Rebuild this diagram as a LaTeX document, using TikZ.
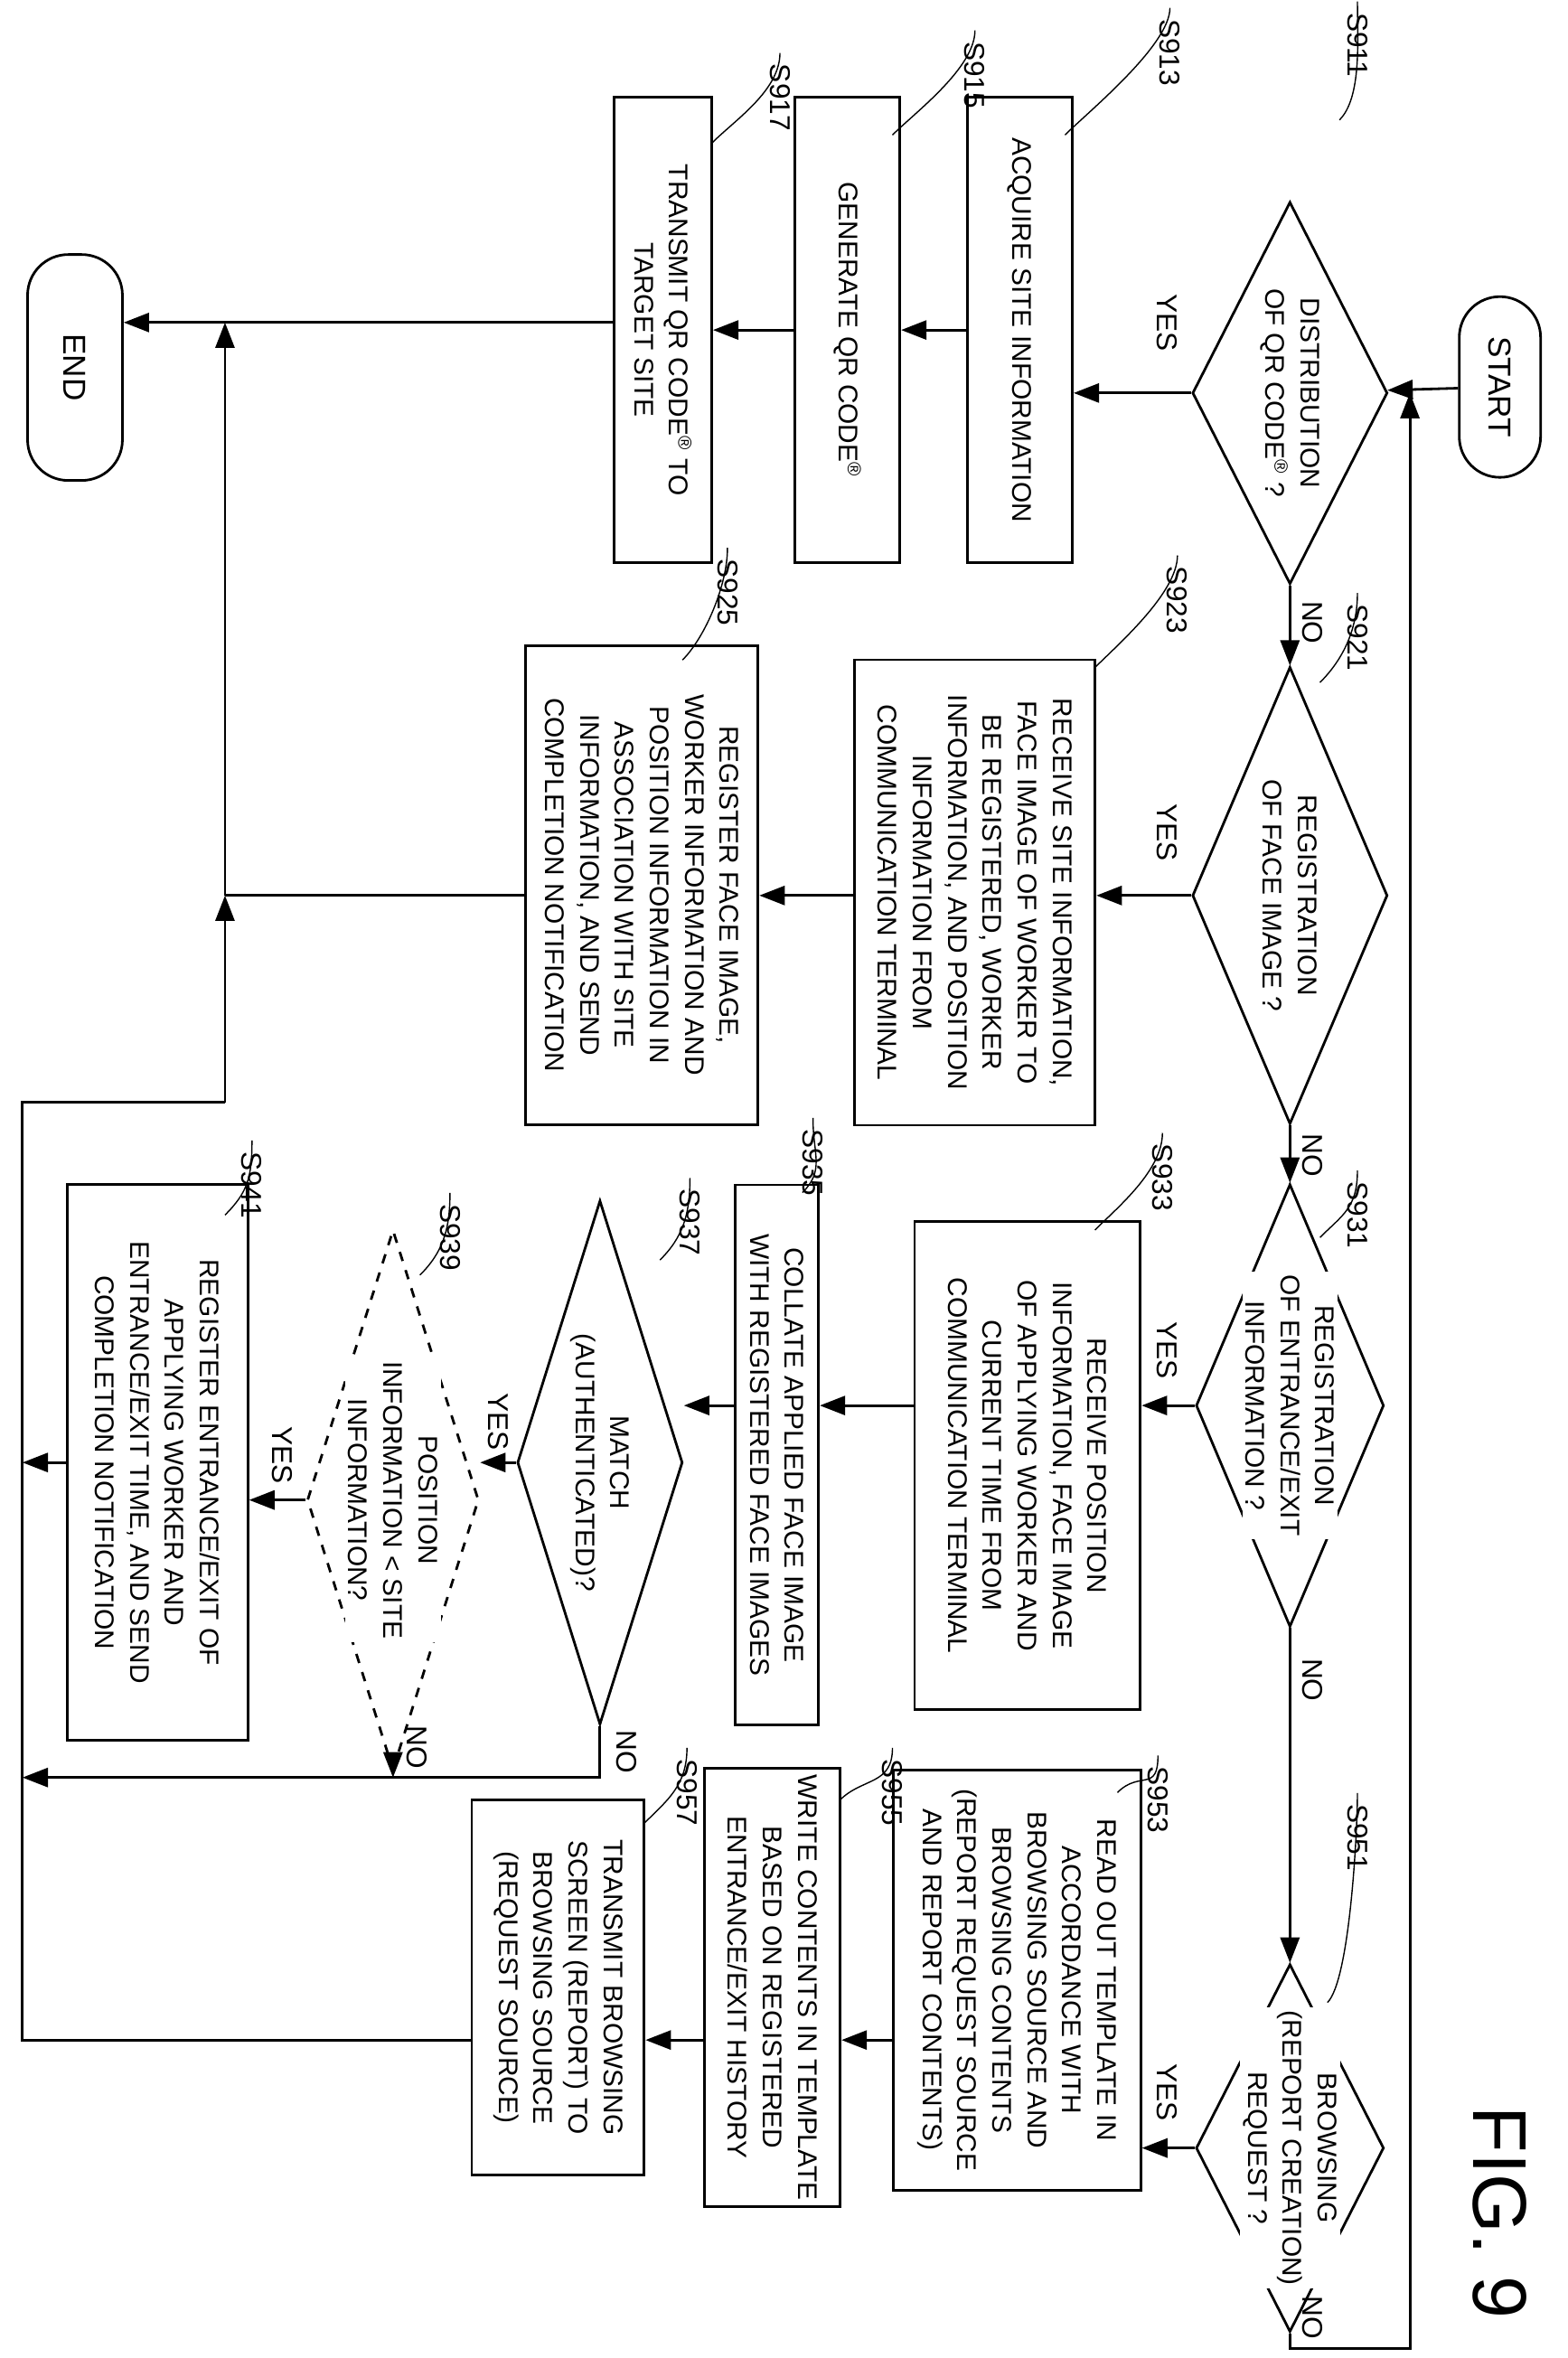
\documentclass[tikz,border=0pt]{standalone}
\usepackage{fontspec}
\setmainfont{Liberation Sans}
\usepackage{tikz}
\usetikzlibrary{shapes.geometric, arrows.meta}
\tikzstyle{box} = [rectangle, draw=black, thick, rotate=-90, align=center, inner sep=2pt, font=\fontsize{8.5}{11}\selectfont]
\tikzstyle{decision} = [diamond, draw=black, thick, rotate=-90, inner sep=0pt]
\tikzstyle{dtext} = [rotate=-90, align=center, inner sep=0pt, font=\fontsize{8.5}{11}\selectfont]
\tikzstyle{term} = [rectangle, rounded corners=0.45cm, draw=black, thick, rotate=-90, font=\fontsize{10}{12}\selectfont]
\tikzstyle{arrow} = [thick,-{Triangle[length=8pt,width=6pt]}]
\tikzstyle{line} = [thick]
\tikzstyle{steplabel} = [rotate=-90, font=\fontsize{9}{11}\selectfont]
\tikzstyle{lbl} = [rotate=-90, font=\fontsize{9}{11}\selectfont]
\begin{document}
\begin{tikzpicture}[x=0.0166cm, y=-0.0166cm]
    \useasboundingbox (0,0) rectangle (1045,1572);
    % start / end
    \node (start) [term, minimum width=2cm, minimum height=0.9cm] at (1000,258) {START};
    \node (end) [term, minimum width=2.5cm, minimum height=1.05cm] at (50,245) {END};
    % column 1
    \node (s911) [decision, minimum width=4.23cm, minimum height=2.16cm] at (860,262) {};
    \node [dtext] at (s911) {DISTRIBUTION\\OF QR CODE\textsuperscript{\textregistered} ?};
    \node (s913) [box, minimum width=5.15cm, minimum height=1.16cm] at (680,220) {ACQUIRE SITE INFORMATION};
    \node (s915) [box, minimum width=5.15cm, minimum height=1.16cm] at (565,220) {GENERATE QR CODE\textsuperscript{\textregistered}};
    \node (s917) [box, minimum width=5.15cm, minimum height=1.08cm] at (442,220) {TRANSMIT QR CODE\textsuperscript{\textregistered} TO\\TARGET SITE};
    % column 2
    \node (s921) [decision, minimum width=5.06cm, minimum height=2.16cm] at (860,597) {};
    \node [dtext] at (s921) {REGISTRATION\\OF FACE IMAGE ?};
    \node (s923) [box, minimum width=5.15cm, minimum height=2.66cm] at (650,595) {RECEIVE SITE INFORMATION,\\FACE IMAGE OF WORKER TO\\BE REGISTERED, WORKER\\INFORMATION, AND POSITION\\INFORMATION FROM\\COMMUNICATION TERMINAL};
    \node (s925) [box, minimum width=5.3cm, minimum height=2.57cm] at (428,590) {REGISTER FACE IMAGE,\\WORKER INFORMATION AND\\POSITION INFORMATION IN\\ASSOCIATION WITH SITE\\INFORMATION, AND SEND\\COMPLETION NOTIFICATION};
    % column 3
    \node (s931) [decision, minimum width=4.9cm, minimum height=2.08cm] at (860,937) {};
    \node [dtext, fill=white, inner sep=1pt] at (s931) {REGISTRATION\\OF ENTRANCE/EXIT\\INFORMATION ?};
    \node (s933) [box, minimum width=5.4cm, minimum height=2.5cm] at (685,977) {RECEIVE POSITION\\INFORMATION, FACE IMAGE\\OF APPLYING WORKER AND\\CURRENT TIME FROM\\COMMUNICATION TERMINAL};
    \node (s935) [box, minimum width=5.98cm, minimum height=0.92cm] at (518,970) {COLLATE APPLIED FACE IMAGE\\WITH REGISTERED FACE IMAGES};
    \node (s937) [decision, minimum width=5.8cm, minimum height=1.83cm] at (400,975) {};
    \node [dtext] at (s937) {MATCH\\(AUTHENTICATED)?};
    \node (s939) [decision, dashed, minimum width=5.98cm, minimum height=1.9cm] at (262,1000) {};
    \node [dtext, fill=white, inner sep=1pt] at (s939) {POSITION\\INFORMATION < SITE\\INFORMATION?};
    \node (s941) [box, minimum width=6.15cm, minimum height=2cm] at (105,975) {REGISTER ENTRANCE/EXIT OF\\APPLYING WORKER AND\\ENTRANCE/EXIT TIME, AND SEND\\COMPLETION NOTIFICATION};
    % column 4
    \node (s951) [decision, minimum width=4.07cm, minimum height=2.08cm] at (860,1432) {};
    \node [dtext, fill=white, inner sep=1pt] at (s951) {BROWSING\\(REPORT CREATION)\\REQUEST ?};
    \node (s953) [box, minimum width=4.65cm, minimum height=2.74cm] at (678,1320) {READ OUT TEMPLATE IN\\ACCORDANCE WITH\\BROWSING SOURCE AND\\BROWSING CONTENTS\\(REPORT REQUEST SOURCE\\AND REPORT CONTENTS)};
    \node (s955) [box, minimum width=4.48cm, minimum height=1.5cm] at (515,1325) {WRITE CONTENTS IN TEMPLATE\\BASED ON REGISTERED\\ENTRANCE/EXIT HISTORY};
    \node (s957) [box, minimum width=4.15cm, minimum height=1.91cm] at (372,1325) {TRANSMIT BROWSING\\SCREEN (REPORT) TO\\BROWSING SOURCE\\(REQUEST SOURCE)};
    % junction points
    \coordinate (loop) at (940,262);
    \coordinate (back) at (150,215);
    \coordinate (mid) at (150,597);
    \coordinate (outer) at (15,735);
    \coordinate (nobus) at (15,1185);
    \coordinate (row4) at (0,1360);

    \draw [arrow] (start) -- (s911);
    \draw [arrow] (s951.east) -- ++(0,10) -| (loop);
    \draw [arrow] (s911.south) -- (s911.south -| s913.north);
    \draw [arrow] (s913) -- (s915);
    \draw [arrow] (s915) -- (s917);
    \draw [arrow] (s917.south |- back) -- (end.north |- back);
    \draw [arrow] (s911.east) -- (s921.west);
    \draw [arrow] (s921.south) -- (s921.south -| s923.north);
    \draw [arrow] (s923.south |- s921.south) -- (s925.north |- s921.south);
    \draw [line] (s925.south |- s921.south) -- (mid |- s921.south);
    \draw [arrow] (s921.east) -- (s931.west);
    \draw [arrow] (s931.south) -- (s931.south -| s933.north);
    \draw [arrow] (s933.south |- s931.south) -- (s935.north |- s931.south);
    \draw [arrow] (s935.south |- s931.south) -- (s937.north |- s931.south);
    \draw [arrow] (s937.south) -- (s937.south -| s939.north);
    \draw [arrow] (s939.south) -- (s939.south -| s941.north);
    \draw [arrow] (s941.south) -- (s941.south -| outer);
    \draw [arrow] (s937.east) |- (nobus);
    \draw [arrow] (s939.east) -- (s939.east |- nobus);
    \draw [arrow] (s931.east) -- (s951.west);
    \draw [arrow] (s951.south) -- (s951.south -| s953.north);
    \draw [arrow] (s953.south |- row4) -- (s955.north |- row4);
    \draw [arrow] (s955.south |- row4) -- (s957.north |- row4);
    \draw [line] (s957.south |- row4) -| (outer) -- (150,735);
    \draw [arrow] (150,735) -- (mid);
    \draw [arrow] (mid) -- (back);

    % yes / no
    \node [lbl] at (778,215) {YES};
    \node [lbl] at (875,415) {NO};
    \node [lbl] at (778,555) {YES};
    \node [lbl] at (875,770) {NO};
    \node [lbl] at (778,900) {YES};
    \node [lbl] at (875,1120) {NO};
    \node [lbl] at (778,1395) {YES};
    \node [lbl] at (875,1545) {NO};
    \node [lbl] at (332,948) {YES};
    \node [lbl] at (418,1168) {NO};
    \node [lbl] at (188,970) {YES};
    \node [lbl] at (278,1165) {NO};

    % step labels
    \foreach \name/\x/\y/\tx/\ty in {911/905/30/893/80, 913/780/35/710/90, 915/650/50/595/90, 917/520/65/475/95,
        921/905/425/880/455, 923/785/400/730/445, 925/485/395/455/440,
        931/905/810/880/825, 933/775/785/730/820, 935/542/775/535/795, 937/460/815/440/840, 939/300/825/280/850, 941/168/790/150/810,
        951/905/1225/885/1335, 953/772/1200/745/1195, 955/595/1195/560/1200, 957/458/1195/430/1215}{
        \node [steplabel] (lab\name) at (\x,\y) {S\name};
        \draw [thin] (lab\name.west) .. controls +(0,25) and +(15,-15) .. (\tx,\ty);
    }
    \node [rotate=-90, font=\fontsize{24}{24}\selectfont] (fig) at (1000,1475) {FIG. 9};
\end{tikzpicture}
\end{document}
